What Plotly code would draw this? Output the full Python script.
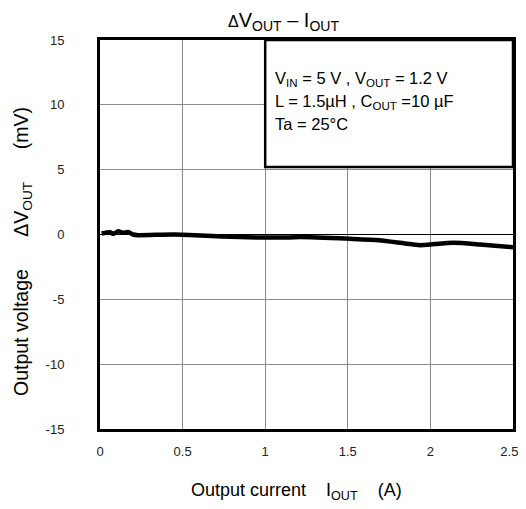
import plotly.graph_objects as go

# Data
iout_a = [0.01, 0.06, 0.08, 0.11, 0.14, 0.17, 0.20, 0.23, 0.45, 0.74, 0.95, 1.15,
          1.21, 1.51, 1.69, 1.94, 2.00, 2.14, 2.30, 2.50]
dvout_mv = [0.08, 0.18, 0.05, 0.25, 0.13, 0.20, 0.00, -0.05, 0.00, -0.15, -0.23, -0.23,
            -0.20, -0.33, -0.44, -0.82, -0.77, -0.64, -0.77, -0.98]

x_tickvals = [0, 0.5, 1, 1.5, 2, 2.5]
x_ticktext = ["0", "0.5", "1", "1.5", "2", "2.5\u00a0\u00a0"]
y_tickvals = [-15, -10, -5, 0, 5, 10, 15]
y_ticktext = ["-15", "-10", "-5", "0", "5", "10", "15"]

SUB = '<sub style="font-size:93%">{}</sub>'
SUBF = '<sub style="font-size:100%">{}</sub>'
cond_lines = [
    "V" + SUB.format("IN") + " = 5 V , V" + SUB.format("OUT") + " = 1.2 V",
    "L = 1.5µH , C" + SUB.format("OUT") + " =10 µF",
    "Ta = 25°C",
]
cond_y = [12.0, 10.2, 8.5]

FONT = "Arial, Liberation Sans, sans-serif"
NB = "\u00a0"

fig = go.Figure()
fig.add_trace(go.Scatter(
    x=iout_a, y=dvout_mv, mode="lines",
    line=dict(color="black", width=4.5, shape="spline", smoothing=0.6),
    showlegend=False, hoverinfo="skip",
))

# condition box
fig.add_shape(type="rect", xref="x", yref="y", x0=1.0, x1=2.5, y0=5.2, y1=15,
              line=dict(color="black", width=2.5), fillcolor="white", layer="above")

for txt, yy in zip(cond_lines, cond_y):
    fig.add_annotation(
        xref="x", yref="y", x=1.045, y=yy, xanchor="left", yanchor="middle",
        text=txt, showarrow=False, align="left",
        font=dict(family=FONT, size=16.5, color="black"),
    )

# title
fig.add_annotation(
    xref="paper", yref="paper", x=0.445, y=1.0, yshift=19, xanchor="center", yanchor="middle",
    text='<span style="font-size:16px">Δ</span>V' + SUB.format("OUT") + " – I" + SUB.format("OUT"),
    showarrow=False, font=dict(family=FONT, size=20, color="black"),
)

# axis titles
fig.add_annotation(
    xref="paper", yref="paper", x=0.475, y=0, yshift=-62, xanchor="center", yanchor="middle",
    text="Output current" + NB * 4 + "I" + SUBF.format("OUT") + NB * 4 + "(A)",
    showarrow=False, font=dict(family=FONT, size=18, color="black"),
)
fig.add_annotation(
    xref="paper", yref="paper", x=0, xshift=-78, y=0.455, xanchor="center", yanchor="middle",
    textangle=-90,
    text="Output voltage" + NB * 6 + "ΔV" + SUB.format("OUT") + NB * 6 + "(mV)",
    showarrow=False, font=dict(family=FONT, size=19.5, color="black"),
)

fig.update_xaxes(
    range=[0, 2.5], tickvals=x_tickvals, ticktext=x_ticktext,
    showgrid=True, gridcolor="#8a8a8a", gridwidth=1,
    showline=True, linecolor="black", linewidth=3, mirror=True,
    zeroline=False, ticks="", ticklabelstandoff=8, automargin=False,
    tickfont=dict(family=FONT, size=13, color="#222"),
)
fig.update_yaxes(
    range=[-15, 15], tickvals=y_tickvals, ticktext=y_ticktext,
    showgrid=True, gridcolor="#8a8a8a", gridwidth=1,
    showline=True, linecolor="black", linewidth=3, mirror=True,
    zeroline=True, zerolinecolor="black", zerolinewidth=1,
    ticks="", ticklabelstandoff=30, automargin=False,
    tickfont=dict(family=FONT, size=13, color="#222"),
)

# page body has an 8px default margin, so the figure is sized to fit inside the window
fig.update_layout(
    width=518, height=501,
    margin=dict(l=92, r=13, t=32, b=80),
    paper_bgcolor="white", plot_bgcolor="white",
    font=dict(family=FONT),
)

fig.write_html("out.html")
